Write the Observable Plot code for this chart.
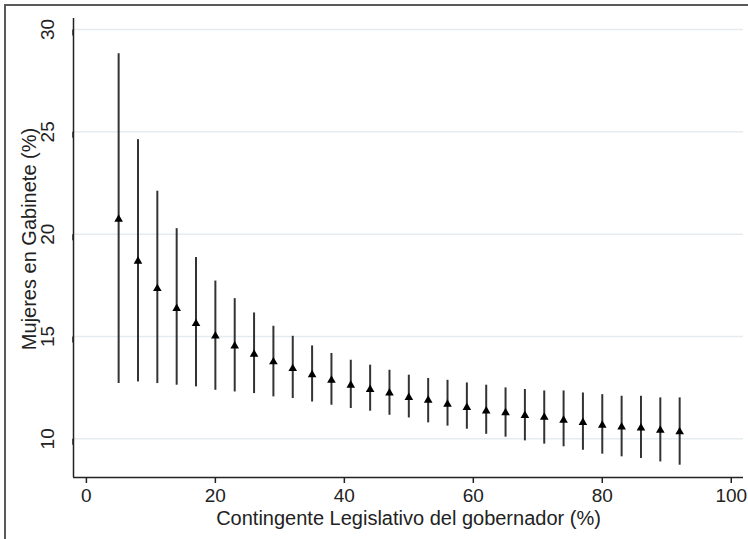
<!DOCTYPE html>
<html>
<head>
<meta charset="utf-8">
<script src="https://cdn.jsdelivr.net/npm/d3@7"></script>
<script src="https://cdn.jsdelivr.net/npm/@observablehq/plot@0.6"></script>
<style>
  html, body { margin: 0; padding: 0; background: #fff; }
  #wrap { position: relative; width: 748px; height: 539px; overflow: hidden; }
  #frame { position: absolute; left: 4px; top: 4px; right: -10px; bottom: -10px;
           border-left: 2px solid #5a5a5a; border-top: 2px solid #5a5a5a; pointer-events: none; }
  svg { font-family: "Liberation Sans", Arial, sans-serif; }
</style>
</head>
<body>
<div id="wrap"><div id="frame"></div></div>
<script>
// Data
const xs    = [5, 8, 11, 14, 17, 20, 23, 26, 29, 32, 35, 38, 41, 44, 47, 50, 53, 56, 59, 62, 65, 68, 71, 74, 77, 80, 83, 86, 89, 92];
const est   = [20.73, 18.68, 17.34, 16.37, 15.63, 15.03, 14.54, 14.13, 13.76, 13.43, 13.13, 12.86, 12.62, 12.41, 12.24, 12.02, 11.89, 11.69, 11.53, 11.36, 11.27, 11.14, 11.05, 10.91, 10.80, 10.66, 10.58, 10.53, 10.42, 10.34];
const lower = [12.70, 12.78, 12.70, 12.62, 12.54, 12.37, 12.29, 12.21, 12.05, 11.97, 11.80, 11.64, 11.48, 11.35, 11.15, 11.02, 10.78, 10.62, 10.47, 10.22, 10.08, 9.90, 9.74, 9.61, 9.44, 9.25, 9.12, 9.04, 8.87, 8.71];
const upper = [28.82, 24.62, 22.10, 20.27, 18.86, 17.71, 16.85, 16.15, 15.50, 15.01, 14.54, 14.17, 13.84, 13.60, 13.35, 13.11, 12.95, 12.86, 12.73, 12.62, 12.49, 12.41, 12.34, 12.34, 12.24, 12.16, 12.08, 12.08, 12.00, 12.00];
const xTicks = [0, 20, 40, 60, 80, 100];
const yTicks = [10, 15, 20, 25, 30];
const xDomain = [-2, 101.9];
const yDomain = [8.11, 30.54];
const xTitle = "Contingente Legislativo del gobernador (%)";
const yTitle = "Mujeres en Gabinete (%)";

const data = xs.map((x, i) => ({x, est: est[i], lo: lower[i], hi: upper[i]}));

const chart = Plot.plot({
  width: 748,
  height: 539,
  marginLeft: 73,
  marginRight: 5,
  marginTop: 18,
  marginBottom: 62,
  style: {fontFamily: "'Liberation Sans', Arial, sans-serif", fontSize: "19px", color: "#222", background: "transparent"},
  x: {domain: xDomain},
  y: {domain: yDomain},
  marks: [
    Plot.gridY(yTicks, {stroke: "#e4ecef", strokeOpacity: 1, strokeWidth: 1.5}),
    Plot.ruleX([xDomain[0]], {stroke: "#222", strokeWidth: 1.5}),
    Plot.ruleY([yDomain[0]], {stroke: "#222", strokeWidth: 1.5}),
    Plot.axisX(xTicks, {tickSize: 6, tickPadding: 5, fontSize: 19, label: null, stroke: "#222", strokeWidth: 1.5, fill: "#222"}),
    Plot.axisY(yTicks, {tickSize: 6, tickPadding: 20, fontSize: 19, label: null, rotate: -90, textAnchor: "middle", stroke: "#222", strokeWidth: 1.5, fill: "#222"}),
    Plot.text([xTitle], {frameAnchor: "bottom", dy: 47, text: d => d, fontSize: 20, fill: "#222"}),
    Plot.text([yTitle], {frameAnchor: "left", textAnchor: "middle", dx: -44, dy: -9, rotate: -90, text: d => d, fontSize: 20, fill: "#222"}),
    Plot.ruleX(data, {x: "x", y1: "lo", y2: "hi", stroke: "#333", strokeWidth: 2}),
    Plot.dot(data, {x: "x", y: "est", symbol: "triangle", r: 3.2, fill: "#000", stroke: "none"})
  ]
});
document.getElementById("wrap").prepend(chart);
</script>
</body>
</html>
